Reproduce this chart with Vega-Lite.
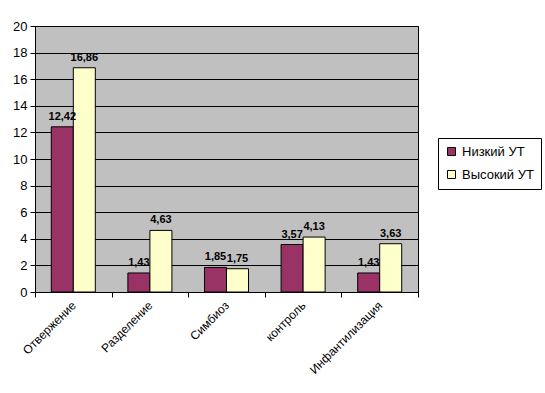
{
  "$schema": "https://vega.github.io/schema/vega-lite/v6.json",
  "width": 383,
  "height": 266,
  "autosize": {"type": "none"},
  "padding": {"left": 35, "top": 26, "right": 127, "bottom": 101},
  "background": "white",
  "data": {"values": [
    {"cat": "Отвержение", "group": "Низкий УТ", "value": 12.42},
    {"cat": "Отвержение", "group": "Высокий УТ", "value": 16.86},
    {"cat": "Разделение", "group": "Низкий УТ", "value": 1.43},
    {"cat": "Разделение", "group": "Высокий УТ", "value": 4.63},
    {"cat": "Симбиоз", "group": "Низкий УТ", "value": 1.85},
    {"cat": "Симбиоз", "group": "Высокий УТ", "value": 1.75},
    {"cat": "контроль", "group": "Низкий УТ", "value": 3.57},
    {"cat": "контроль", "group": "Высокий УТ", "value": 4.13},
    {"cat": "Инфантилизация", "group": "Низкий УТ", "value": 1.43},
    {"cat": "Инфантилизация", "group": "Высокий УТ", "value": 3.63}
  ]},
  "encoding": {
    "x": {
      "field": "cat", "type": "nominal", "sort": null,
      "scale": {"paddingInner": 0, "paddingOuter": 0},
      "axis": {"title": null, "labelAngle": -45, "labelAlign": "right", "labelBaseline": "middle", "tickBand": "extent", "domainColor": "black", "tickColor": "black", "labelColor": "black", "labelFontSize": 12, "labelPadding": 6, "tickSize": 5, "grid": false}
    },
    "xOffset": {"field": "group", "type": "nominal", "sort": ["Низкий УТ", "Высокий УТ"], "scale": {"paddingOuter": 0.74, "paddingInner": 0}},
    "y": {
      "field": "value", "type": "quantitative",
      "scale": {"domain": [0, 20], "nice": false},
      "axis": {"title": null, "values": [0, 2, 4, 6, 8, 10, 12, 14, 16, 18, 20], "grid": true, "gridColor": "black", "gridOpacity": 1, "domainColor": "black", "tickColor": "black", "labelColor": "black", "labelFontSize": 13, "tickSize": 5, "labelPadding": 3}
    }
  },
  "layer": [
    {
      "mark": {"type": "bar", "stroke": "black", "strokeWidth": 1},
      "encoding": {
        "color": {
          "field": "group", "type": "nominal",
          "sort": ["Низкий УТ", "Высокий УТ"],
          "scale": {"domain": ["Низкий УТ", "Высокий УТ"], "range": ["#993366", "#FFFFCC"]},
          "legend": {"title": null, "orient": "none", "legendX": 403, "legendY": 112, "symbolType": "square", "symbolSize": 64, "symbolStrokeColor": "black", "symbolStrokeWidth": 1, "labelFontSize": 13, "labelColor": "black", "strokeColor": "black", "fillColor": "white", "padding": 7, "rowPadding": 9, "labelOffset": 4}
        }
      }
    },
    {
      "mark": {"type": "text", "baseline": "bottom", "dy": -5, "fontWeight": "bold", "fontSize": 11, "color": "black"},
      "encoding": {"text": {"field": "value", "type": "quantitative", "format": ".2f"}}
    }
  ],
  "config": {
    "font": "Liberation Sans",
    "locale": {"number": {"decimal": ",", "thousands": " ", "grouping": [3], "currency": ["", ""]}},
    "view": {"fill": "#C0C0C0", "stroke": "black", "strokeWidth": 1}
  }
}
